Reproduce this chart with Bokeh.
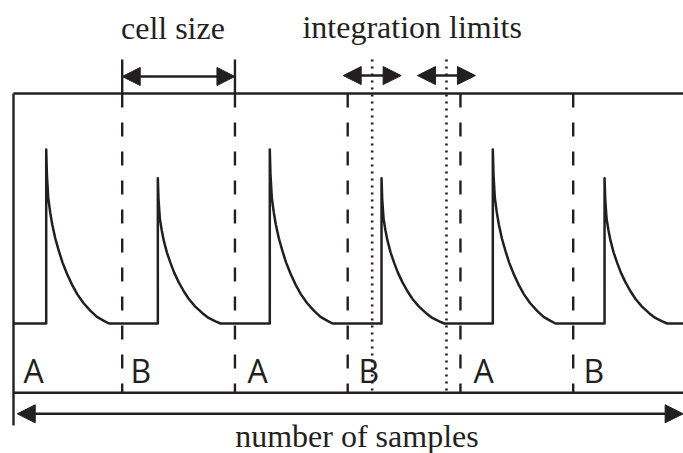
from bokeh.plotting import figure
from bokeh.models import Range1d, Arrow, NormalHead
from bokeh.core.properties import value
from bokeh.embed import file_html
from bokeh.resources import INLINE

# ---- data (x in cell units, y in signal amplitude units) ----
cell_boundaries = [1, 2, 3, 4, 5]
peak_positions = [0.326, 1.316, 2.309, 3.300, 4.287, 5.278]
peak_heights = [1.0, 0.835, 1.0, 0.835, 1.0, 0.835]
# pulse decay shape: offset after peak, fraction of peak height
decay_offsets = [0.0, 0.003, 0.006, 0.018, 0.035, 0.053, 0.080, 0.112, 0.145,
                 0.186, 0.230, 0.275, 0.330, 0.393, 0.450, 0.512, 0.556]
decay_fractions = [1.0, 0.930, 0.857, 0.722, 0.640, 0.570, 0.490, 0.417, 0.350,
                   0.283, 0.222, 0.169, 0.118, 0.073, 0.038, 0.015, 0.0]
signal_start = 0.036
signal_end = 6.1
cell_labels = ["A", "B", "A", "B", "A", "B"]
label_x = [0.125, 1.074, 2.111, 3.096, 4.116, 5.091]
integration_limits = [3.217, 3.876]
limit_window = 0.257
axis_end = 5.975

INK = "#231f20"

# frame levels
top_y = 1.322
bottom_y = -0.398
left_bottom_y = -0.586
marker_top_y = 1.517
arrow_cell_y = 1.4195
arrow_int_y = 1.425
arrow_samples_y = -0.519
label_y = -0.268

p = figure(width=683, height=453, output_backend="svg", toolbar_location=None,
           x_range=Range1d(-0.0794, 5.9782), y_range=Range1d(-0.7471, 1.8563),
           x_axis_location=None, y_axis_location=None, min_border=0,
           outline_line_color=None, background_fill_color="white",
           border_fill_color="white")
p.grid.visible = False

LW = 2.4

# frame lines
p.segment(x0=[signal_start], y0=[top_y], x1=[signal_start], y1=[left_bottom_y],
          line_color=INK, line_width=LW)
p.segment(x0=[signal_start, signal_start], y0=[top_y, bottom_y],
          x1=[signal_end, signal_end], y1=[top_y, bottom_y],
          line_color=INK, line_width=LW)

# dashed cell boundaries
p.segment(x0=cell_boundaries, y0=[top_y] * len(cell_boundaries),
          x1=cell_boundaries, y1=[bottom_y] * len(cell_boundaries),
          line_color=INK, line_width=LW, line_dash="14 15")

# cell size markers
p.segment(x0=cell_boundaries[:2], y0=[marker_top_y] * 2,
          x1=cell_boundaries[:2], y1=[top_y] * 2, line_color=INK, line_width=LW)

# dotted integration limits
p.segment(x0=integration_limits, y0=[marker_top_y] * 2,
          x1=integration_limits, y1=[bottom_y] * 2,
          line_color=INK, line_width=2.6, line_dash="2 5")

# signal
xs = [signal_start]
ys = [0.0]
for pos, h in zip(peak_positions, peak_heights):
    xs.append(pos)
    ys.append(0.0)
    for off, fr in zip(decay_offsets, decay_fractions):
        xs.append(pos + off)
        ys.append(h * fr)
xs.append(signal_end)
ys.append(0.0)
p.line(xs, ys, line_color=INK, line_width=2.5, line_join="round")

# arrows
def head():
    return NormalHead(size=18, fill_color=INK, fill_alpha=1.0, line_color=INK, line_width=1)

p.add_layout(Arrow(start=head(), end=head(), x_start=cell_boundaries[0], y_start=arrow_cell_y,
                   x_end=cell_boundaries[1], y_end=arrow_cell_y, line_color=INK, line_width=LW))
for lim in integration_limits:
    p.add_layout(Arrow(start=head(), end=head(), x_start=lim - limit_window, y_start=arrow_int_y,
                       x_end=lim + limit_window, y_end=arrow_int_y, line_color=INK, line_width=LW))
p.add_layout(Arrow(start=head(), end=head(), x_start=0.069, y_start=arrow_samples_y,
                   x_end=axis_end, y_end=arrow_samples_y, line_color=INK, line_width=LW))

# labels
p.text(x=label_x, y=[label_y] * len(label_x), text=cell_labels,
       text_font=value("Open Sans"), text_font_size="32px", text_color=INK,
       text_align="left", text_baseline="alphabetic")

serif = dict(text_font=value("Liberation Serif"), text_font_size="32px",
             text_color=INK, text_align="center", text_baseline="alphabetic")
p.text(x=[1.45], y=[1.699], text=["cell size"], **serif)
p.text(x=[3.572], y=[1.704], text=["integration limits"], **serif)
p.text(x=[3.082], y=[-0.648], text=["number of samples"], **serif)

open("out.html", "w").write(file_html(p, INLINE))
